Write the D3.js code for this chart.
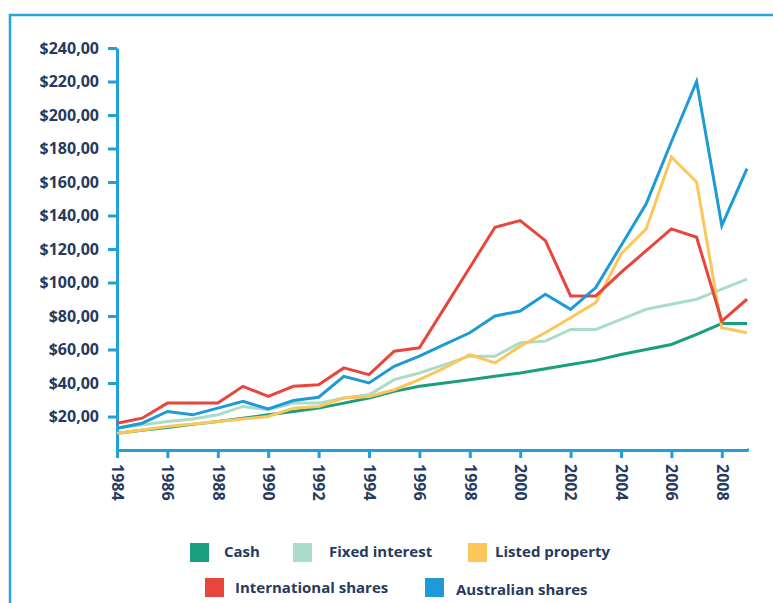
<!DOCTYPE html>
<html>
<head>
<meta charset="utf-8">
<script src="https://cdn.jsdelivr.net/npm/d3@7"></script>
<style>
  body { margin: 0; background: #fff; }
  text { font-family: 'Open Sans', sans-serif; font-weight: 700; fill: #263a5e; }
</style>
</head>
<body>
<script>
var years = d3.range(1984, 2010);

var cash = [10, 11.8, 13.5, 15.3, 17, 19, 21, 23, 25, 28, 31, 35, 38, 40, 42, 44, 46, 48.5, 51, 53.5, 57, 60, 63, 69, 75.5, 75.5];
var fixedInterest = [13, 15, 17, 18.5, 21, 26, 24, 28, 28, 31, 33, 42, 46, 51, 56, 56, 64, 65, 72, 72, 78, 84, 87, 90, 96, 102];
var listedProperty = [10, 12, 14, 15.5, 17, 18.5, 20, 25, 26, 31, 32, 36, 42, 49, 57, 52, 62, 70, 79, 88, 117, 132, 175, 160, 73, 70];
var intlShares = [16, 19, 28, 28, 28, 38, 32, 38, 39, 49, 45, 59, 61, 85, 109, 133, 137, 125, 92, 92, 106, 119, 132, 127, 77, 90];
var ausShares = [13, 16, 23, 21, 25, 29, 24.5, 29.5, 31.5, 44, 40, 50, 56, 63, 70, 80, 83, 93, 84, 97, 122, 147, 184, 220, 134, 168];

var yTicks = d3.range(20, 241, 20);
var xTicks = d3.range(1984, 2009, 2);

var series = [
  { name: 'Cash', values: cash, color: '#1a9e7e' },
  { name: 'Fixed interest', values: fixedInterest, color: '#a9dccb' },
  { name: 'Listed property', values: listedProperty, color: '#fcc65a' },
  { name: 'International shares', values: intlShares, color: '#e8453c' },
  { name: 'Australian shares', values: ausShares, color: '#1e9bd7' }
];

var axisColor = '#1fa0d8';

var svg = d3.select('body').append('svg')
  .attr('width', 773)
  .attr('height', 603);

// frame
svg.append('rect')
  .attr('x', 10).attr('y', 15)
  .attr('width', 800).attr('height', 700)
  .attr('fill', 'none')
  .attr('stroke', '#2aa3dc')
  .attr('stroke-width', 2.5);

var x = d3.scaleLinear().domain([1984, 2009]).range([117, 747]);
var y = d3.scaleLinear().domain([0, 240]).range([450, 48]);

// x axis
var gx = svg.append('g')
  .attr('transform', 'translate(0,450)')
  .call(d3.axisBottom(x).tickValues(xTicks).tickSize(8).tickSizeOuter(0).tickFormat(d3.format('d')));

svg.append('line')
  .attr('x1', 747).attr('x2', 749)
  .attr('y1', 450).attr('y2', 450)
  .attr('stroke', axisColor).attr('stroke-width', 3);

gx.selectAll('text')
  .attr('transform', 'rotate(90)')
  .attr('x', 14).attr('y', 0)
  .attr('dy', '0.35em')
  .style('text-anchor', 'start')
  .style('font-size', '16px');

// y axis
var gy = svg.append('g')
  .attr('transform', 'translate(117,0)')
  .call(d3.axisLeft(y).tickValues(yTicks).tickSize(9).tickSizeOuter(0).tickPadding(9)
    .tickFormat(function (d) { return '$' + d + ',00'; }));

gy.selectAll('text').style('font-size', '16px');

svg.selectAll('.domain, .tick line')
  .attr('stroke', axisColor)
  .attr('stroke-width', 3);

// lines
var line = d3.line()
  .x(function (d, i) { return x(years[i]); })
  .y(function (d) { return y(d); });

svg.selectAll('.series')
  .data(series)
  .enter().append('path')
  .attr('class', 'series')
  .attr('d', function (d) { return line(d.values); })
  .attr('fill', 'none')
  .attr('stroke', function (d) { return d.color; })
  .attr('stroke-width', 3)
  .attr('stroke-linejoin', 'miter');

// legend
var legendPos = [[190, 543], [293, 543], [468, 543], [205, 578], [425, 578]];
var legendText = [[224, 557], [329, 557], [495, 557], [235, 593], [456, 595]];

var legend = svg.selectAll('.legend')
  .data(series)
  .enter().append('g')
  .attr('class', 'legend');

legend.append('rect')
  .attr('x', function (d, i) { return legendPos[i][0]; })
  .attr('y', function (d, i) { return legendPos[i][1]; })
  .attr('width', 19).attr('height', 19)
  .attr('fill', function (d) { return d.color; });

legend.append('text')
  .attr('x', function (d, i) { return legendText[i][0]; })
  .attr('y', function (d, i) { return legendText[i][1]; })
  .style('font-size', '15px')
  .text(function (d) { return d.name; });
</script>
</body>
</html>
